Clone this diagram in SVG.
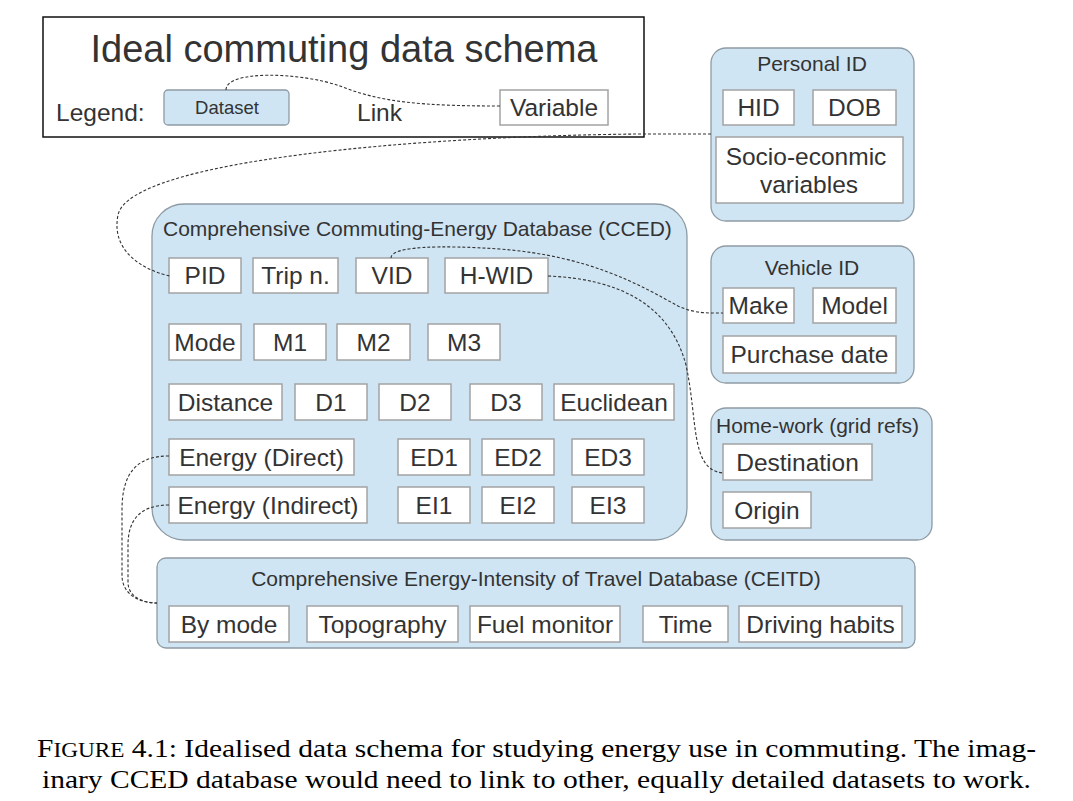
<svg xmlns="http://www.w3.org/2000/svg" width="1073" height="801" viewBox="0 0 1073 801">
<style>
  .ds { fill: #cfe5f3; stroke: #8e9ba4; stroke-width: 1.3; }
  .var { fill: #ffffff; stroke: #a3a3a3; stroke-width: 1.5; }
  .t { font-family: "Liberation Sans", Arial, sans-serif; fill: #333333; }
  .vt { font-size: 24.5px; text-anchor: middle; }
  .dt { font-size: 21px; }
  .lnk { fill: none; stroke: #333333; stroke-width: 1.1; stroke-dasharray: 3 2; }
  .cap { font-family: "Liberation Serif", "Times New Roman", serif; font-size: 26px; fill: #000; }
</style>
<rect width="1073" height="801" fill="#ffffff"/>

<g id="legend">
  <rect x="43" y="17" width="601" height="120" fill="#ffffff" stroke="#111111" stroke-width="1.5"/>
  <text class="t" x="344" y="62" font-size="38" text-anchor="middle">Ideal commuting data schema</text>
  <text class="t" x="56" y="121" font-size="24.5">Legend:</text>
  <g id="legend-dataset">
    <rect class="ds" x="164" y="90" width="125" height="35" rx="4"/>
    <text class="t" x="227" y="114" font-size="18.5" text-anchor="middle">Dataset</text>
  </g>
  <text class="t" x="357" y="121" font-size="24.5">Link</text>
  <g id="legend-variable">
    <rect class="var" x="500" y="90" width="108" height="35"/>
    <text class="t vt" x="554" y="116">Variable</text>
  </g>
</g>

<g id="personal-id">
  <rect class="ds" x="711" y="48" width="203" height="173" rx="15"/>
  <text class="t dt" x="812" y="71" text-anchor="middle">Personal ID</text>
  <g id="v-hid"><rect class="var" x="723" y="90" width="71" height="35"/><text class="t vt" x="758.5" y="116">HID</text></g>
  <g id="v-dob"><rect class="var" x="813" y="90" width="83" height="35"/><text class="t vt" x="854.5" y="116">DOB</text></g>
  <g id="v-socio"><rect class="var" x="716" y="137" width="187" height="66"/>
    <text class="t vt" x="806" y="165">Socio-econmic</text>
    <text class="t vt" x="809" y="193">variables</text></g>
</g>

<g id="vehicle-id">
  <rect class="ds" x="711" y="246" width="203" height="137" rx="15"/>
  <text class="t dt" x="812" y="275" text-anchor="middle">Vehicle ID</text>
  <g id="v-make"><rect class="var" x="723" y="288" width="71" height="35"/><text class="t vt" x="758.5" y="314">Make</text></g>
  <g id="v-model"><rect class="var" x="813" y="288" width="83" height="35"/><text class="t vt" x="854.5" y="314">Model</text></g>
  <g id="v-purchase"><rect class="var" x="723" y="336" width="173" height="37"/><text class="t vt" x="809.5" y="363">Purchase date</text></g>
</g>

<g id="home-work">
  <rect class="ds" x="711" y="408" width="221" height="132" rx="15"/>
  <text class="t dt" x="716" y="433">Home-work (grid refs)</text>
  <g id="v-destination"><rect class="var" x="723" y="444" width="149" height="36"/><text class="t vt" x="797.5" y="471">Destination</text></g>
  <g id="v-origin"><rect class="var" x="723" y="492" width="88" height="36"/><text class="t vt" x="767" y="519">Origin</text></g>
</g>

<g id="cced">
  <rect class="ds" x="152" y="204" width="535" height="336" rx="32"/>
  <text class="t dt" x="163" y="236">Comprehensive Commuting-Energy Database (CCED)</text>
  <g id="v-pid"><rect class="var" x="169" y="258" width="72" height="35"/><text class="t vt" x="205" y="284">PID</text></g>
  <g id="v-trip"><rect class="var" x="253" y="258" width="85" height="35"/><text class="t vt" x="295.5" y="284">Trip n.</text></g>
  <g id="v-vid"><rect class="var" x="356" y="258" width="72" height="35"/><text class="t vt" x="392" y="284">VID</text></g>
  <g id="v-hwid"><rect class="var" x="445" y="258" width="103" height="35"/><text class="t vt" x="496.5" y="284">H-WID</text></g>

  <g id="v-mode"><rect class="var" x="169" y="324" width="72" height="36"/><text class="t vt" x="205" y="351">Mode</text></g>
  <g id="v-m1"><rect class="var" x="254" y="324" width="72" height="36"/><text class="t vt" x="290" y="351">M1</text></g>
  <g id="v-m2"><rect class="var" x="337" y="324" width="73" height="36"/><text class="t vt" x="373.5" y="351">M2</text></g>
  <g id="v-m3"><rect class="var" x="428" y="324" width="72" height="36"/><text class="t vt" x="464" y="351">M3</text></g>

  <g id="v-distance"><rect class="var" x="169" y="384" width="113" height="36"/><text class="t vt" x="225.5" y="411">Distance</text></g>
  <g id="v-d1"><rect class="var" x="295" y="384" width="72" height="36"/><text class="t vt" x="331" y="411">D1</text></g>
  <g id="v-d2"><rect class="var" x="379" y="384" width="72" height="36"/><text class="t vt" x="415" y="411">D2</text></g>
  <g id="v-d3"><rect class="var" x="470" y="384" width="72" height="36"/><text class="t vt" x="506" y="411">D3</text></g>
  <g id="v-euclid"><rect class="var" x="554" y="384" width="120" height="36"/><text class="t vt" x="614" y="411">Euclidean</text></g>

  <g id="v-edirect"><rect class="var" x="169" y="439" width="185" height="36"/><text class="t vt" x="261.5" y="466">Energy (Direct)</text></g>
  <g id="v-ed1"><rect class="var" x="398" y="439" width="72" height="36"/><text class="t vt" x="434" y="466">ED1</text></g>
  <g id="v-ed2"><rect class="var" x="482" y="439" width="72" height="36"/><text class="t vt" x="518" y="466">ED2</text></g>
  <g id="v-ed3"><rect class="var" x="572" y="439" width="72" height="36"/><text class="t vt" x="608" y="466">ED3</text></g>

  <g id="v-eindirect"><rect class="var" x="169" y="487" width="198" height="36"/><text class="t vt" x="268" y="514">Energy (Indirect)</text></g>
  <g id="v-ei1"><rect class="var" x="398" y="487" width="72" height="36"/><text class="t vt" x="434" y="514">EI1</text></g>
  <g id="v-ei2"><rect class="var" x="482" y="487" width="72" height="36"/><text class="t vt" x="518" y="514">EI2</text></g>
  <g id="v-ei3"><rect class="var" x="572" y="487" width="72" height="36"/><text class="t vt" x="608" y="514">EI3</text></g>
</g>

<g id="ceitd">
  <rect class="ds" x="157" y="558" width="758" height="90" rx="9"/>
  <text class="t dt" x="536" y="586" text-anchor="middle">Comprehensive Energy-Intensity of Travel Database (CEITD)</text>
  <g id="v-bymode"><rect class="var" x="169" y="606" width="120" height="36"/><text class="t vt" x="229" y="633">By mode</text></g>
  <g id="v-topo"><rect class="var" x="307" y="606" width="151" height="36"/><text class="t vt" x="382.5" y="633">Topography</text></g>
  <g id="v-fuel"><rect class="var" x="470" y="606" width="150" height="36"/><text class="t vt" x="545" y="633">Fuel monitor</text></g>
  <g id="v-time"><rect class="var" x="643" y="606" width="85" height="36"/><text class="t vt" x="685.5" y="633">Time</text></g>
  <g id="v-driving"><rect class="var" x="739" y="606" width="163" height="36"/><text class="t vt" x="820.5" y="633">Driving habits</text></g>
</g>

<g id="connectors">
  <path class="lnk" d="M226,90 C226,70 300,72 340,86 C380,102 420,106 500,106"/>
  <path class="lnk" d="M711,134 L640,134 C420,136 130,160 118,215 C110,255 150,272 170,276"/>
  <path class="lnk" d="M391,258 C391,246 440,245 500,249 C590,256 640,285 678,306 C695,314 710,313 723,313"/>
  <path class="lnk" d="M548,276 C620,279 670,305 686,365 C698,420 690,470 723,473"/>
  <path class="lnk" d="M169,456 C135,456 122,475 122,510 L122,575 C122,595 140,603 157,603"/>
  <path class="lnk" d="M169,505 C140,505 128,520 128,545 L128,582 C128,598 145,603 157,603"/>
</g>

<g id="caption">
  <text class="cap" x="37" y="757" textLength="999" lengthAdjust="spacingAndGlyphs">F<tspan font-size="20.5">IGURE</tspan> 4.1: Idealised data schema for studying energy use in commuting. The imag-</text>
  <text class="cap" x="42" y="788" textLength="989" lengthAdjust="spacingAndGlyphs">inary CCED database would need to link to other, equally detailed datasets to work.</text>
</g>
</svg>
